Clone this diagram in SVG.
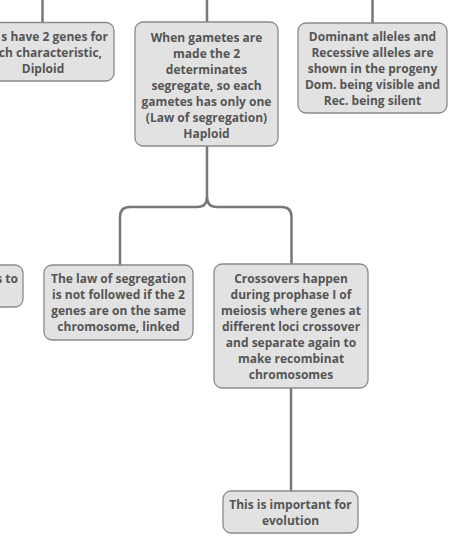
<svg xmlns="http://www.w3.org/2000/svg" width="456" height="542" viewBox="0 0 456 542">
<style>
.box{fill:#e2e2e2;stroke:#8a8a8a;stroke-width:1.3}
.t{font-family:"Open Sans","Noto Sans",sans-serif;font-weight:bold;font-size:12px;fill:#555;text-anchor:middle}
.e{text-anchor:end}
.c{fill:none;stroke:#777;stroke-width:2.5}
</style>
<rect width="456" height="542" fill="#fff"/>
<g id="connectors">
<path class="c" d="M42.5 0V22"/>
<path class="c" d="M207 0V22"/>
<path class="c" d="M372.5 0V23"/>
<path class="c" d="M207 146V197Q207 207 197 207H130Q120 207 120 217V265"/>
<path class="c" d="M207 197Q207 207 217 207H281.5Q291.5 207 291.5 217V264"/>
<path class="c" d="M291 388V491"/>
</g>
<g id="n1">
<rect class="box" x="-30" y="22.5" width="144" height="58.5" rx="8"/>
<text class="t e" x="108" y="41">s have 2 genes for</text>
<text class="t e" x="102" y="57">ch characteristic,</text>
<text class="t" x="43" y="73">Diploid</text>
</g>
<g id="n2">
<rect class="box" x="135" y="22" width="143" height="124" rx="8"/>
<text class="t" x="206.5" y="42">When gametes are</text>
<text class="t" x="206.5" y="58">made the 2</text>
<text class="t" x="206.5" y="74">determinates</text>
<text class="t" x="206.5" y="90">segregate, so each</text>
<text class="t" x="206.5" y="106">gametes has only one</text>
<text class="t" x="206.5" y="122">(Law of segregation)</text>
<text class="t" x="206.5" y="138">Haploid</text>
</g>
<g id="n3">
<rect class="box" x="298" y="23" width="149" height="90" rx="8"/>
<text class="t" x="372.5" y="41">Dominant alleles and</text>
<text class="t" x="372.5" y="57">Recessive alleles are</text>
<text class="t" x="372.5" y="73">shown in the progeny</text>
<text class="t" x="372.5" y="89">Dom. being visible and</text>
<text class="t" x="372.5" y="105">Rec. being silent</text>
</g>
<g id="n4l">
<rect class="box" x="-40" y="265" width="63" height="42" rx="8"/>
<text class="t e" x="18" y="283">s to</text>
</g>
<g id="n4">
<rect class="box" x="44" y="265" width="149" height="75" rx="8"/>
<text class="t" x="118.5" y="283">The law of segregation</text>
<text class="t" x="118.5" y="299">is not followed if the 2</text>
<text class="t" x="118.5" y="315">genes are on the same</text>
<text class="t" x="118.5" y="331">chromosome, linked</text>
</g>
<g id="n5">
<rect class="box" x="214" y="264" width="154" height="124" rx="8"/>
<text class="t" x="291" y="283">Crossovers happen</text>
<text class="t" x="291" y="299">during prophase I of</text>
<text class="t" x="291" y="315">meiosis where genes at</text>
<text class="t" x="291" y="331">different loci crossover</text>
<text class="t" x="291" y="347">and separate again to</text>
<text class="t" x="291" y="363">make recombinat</text>
<text class="t" x="291" y="379">chromosomes</text>
</g>
<g id="n6">
<rect class="box" x="223" y="491" width="135" height="42" rx="8"/>
<text class="t" x="290.5" y="509">This is important for</text>
<text class="t" x="290.5" y="525">evolution</text>
</g>
</svg>
